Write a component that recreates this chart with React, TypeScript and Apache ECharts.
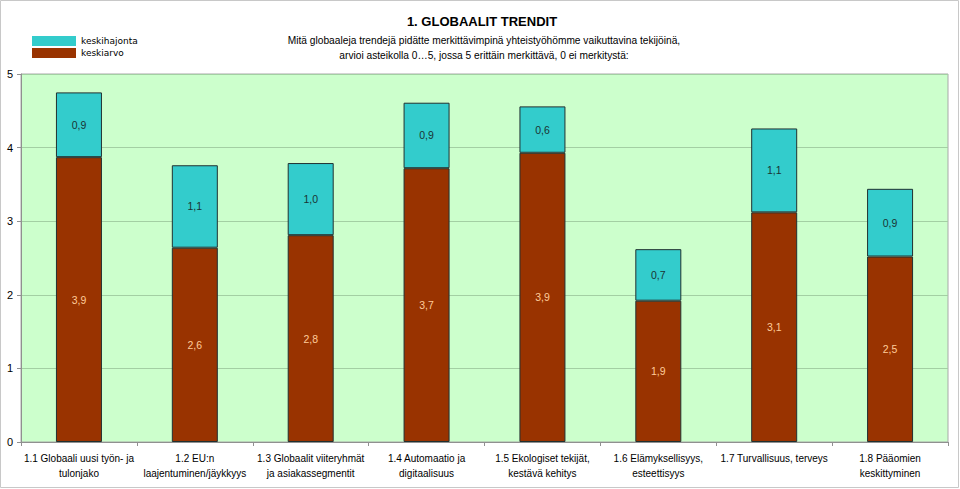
import React, { useEffect, useRef } from "react";
import * as echarts from "echarts";

const categories = [
  "1.1 Globaali uusi työn- ja\ntulonjako",
  "1.2 EU:n\nlaajentuminen/jäykkyys",
  "1.3 Globaalit viiteryhmät\nja asiakassegmentit",
  "1.4 Automaatio ja\ndigitaalisuus",
  "1.5 Ekologiset tekijät,\nkestävä kehitys",
  "1.6 Elämyksellisyys,\nesteettisyys",
  "1.7 Turvallisuus, terveys",
  "1.8 Pääomien\nkeskittyminen",
];
const keskiarvo = [3.87, 2.64, 2.81, 3.72, 3.93, 1.92, 3.12, 2.52];
const keskihajonta = [0.88, 1.12, 0.98, 0.89, 0.63, 0.7, 1.14, 0.92];
const yTicks = [0, 1, 2, 3, 4, 5];

const FONT = "'Liberation Sans', Arial, sans-serif";
const fmt = (v: number) => v.toFixed(1).replace(".", ",");

export default function App() {
  const ref = useRef<HTMLDivElement>(null);
  useEffect(() => {
    if (!ref.current) return;
    const chart = echarts.init(ref.current, undefined, { renderer: "svg" });
    chart.setOption({
      animation: false,
      backgroundColor: "#ffffff",
      textStyle: { fontFamily: FONT },
      legend: {
        data: ["keskihajonta", "keskiarvo"],
        orient: "vertical",
        left: 27,
        top: 31,
        itemWidth: 44,
        itemHeight: 10,
        itemGap: 2,
        icon: "rect",
        selectedMode: false,
        itemStyle: { borderWidth: 0 },
        textStyle: { fontSize: 9, color: "#000", fontFamily: "'DejaVu Sans', sans-serif" },
      },
      grid: {
        left: 21,
        right: 12,
        top: 74,
        bottom: 47,
        show: true,
        backgroundColor: "#CCFFCC",
        borderColor: "#a8a8a8",
        borderWidth: 1,
      },
      graphic: [
        {
          type: "rect",
          shape: { x: 0.5, y: 0.5, width: 958, height: 487 },
          style: { fill: "none", stroke: "#c8c8c8", lineWidth: 1 },
          silent: true,
        },
        {
          type: "text",
          x: 482,
          y: 21,
          style: {
            text: "1. GLOBAALIT TRENDIT",
            font: `bold 13px ${FONT}`,
            fill: "#000",
            align: "center",
            verticalAlign: "middle",
          },
        },
        {
          type: "text",
          x: 484,
          y: 48,
          style: {
            text:
              "Mitä globaaleja trendejä pidätte merkittävimpinä yhteistyöhömme vaikuttavina tekijöinä,\narvioi asteikolla 0…5, jossa 5 erittäin merkittävä, 0 ei merkitystä:",
            font: `10.2px ${FONT}`,
            lineHeight: 15,
            fill: "#000",
            align: "center",
            verticalAlign: "middle",
          },
        },
      ],
      xAxis: {
        type: "category",
        data: categories,
        boundaryGap: true,
        axisLine: { lineStyle: { color: "#909090" } },
        axisTick: { show: true, alignWithLabel: false, length: 4, lineStyle: { color: "#909090" } },
        axisLabel: {
          interval: 0,
          fontSize: 10,
          lineHeight: 15,
          color: "#000",
          margin: 9,
          fontFamily: FONT,
        },
      },
      yAxis: {
        type: "value",
        min: yTicks[0],
        max: yTicks[yTicks.length - 1],
        interval: 1,
        axisLine: { show: true, lineStyle: { color: "#909090" } },
        axisTick: { show: true, length: 4, lineStyle: { color: "#909090" } },
        axisLabel: { fontSize: 11, color: "#000", margin: 8, fontFamily: FONT },
        splitLine: { show: true, lineStyle: { color: "#a3cfa3", width: 1 } },
      },
      series: [
        {
          name: "keskiarvo",
          type: "bar",
          stack: "s",
          data: keskiarvo,
          barWidth: 46,
          itemStyle: { color: "#993300", borderColor: "#203030", borderWidth: 1 },
          label: {
            show: true,
            position: "inside",
            formatter: (p: any) => fmt(p.value),
            color: "#FFCC99",
            fontSize: 10.5,
            fontFamily: FONT,
          },
        },
        {
          name: "keskihajonta",
          type: "bar",
          stack: "s",
          data: keskihajonta,
          barWidth: 46,
          itemStyle: { color: "#33CCCC", borderColor: "#203030", borderWidth: 1 },
          label: {
            show: true,
            position: "inside",
            formatter: (p: any) => fmt(p.value),
            color: "#1a3333",
            fontSize: 10.5,
            fontFamily: FONT,
          },
        },
      ],
    });
    return () => chart.dispose();
  }, []);
  return (
    <div
      ref={ref}
      style={{ position: "absolute", left: 0, top: 0, width: 960, height: 489 }}
    />
  );
}
